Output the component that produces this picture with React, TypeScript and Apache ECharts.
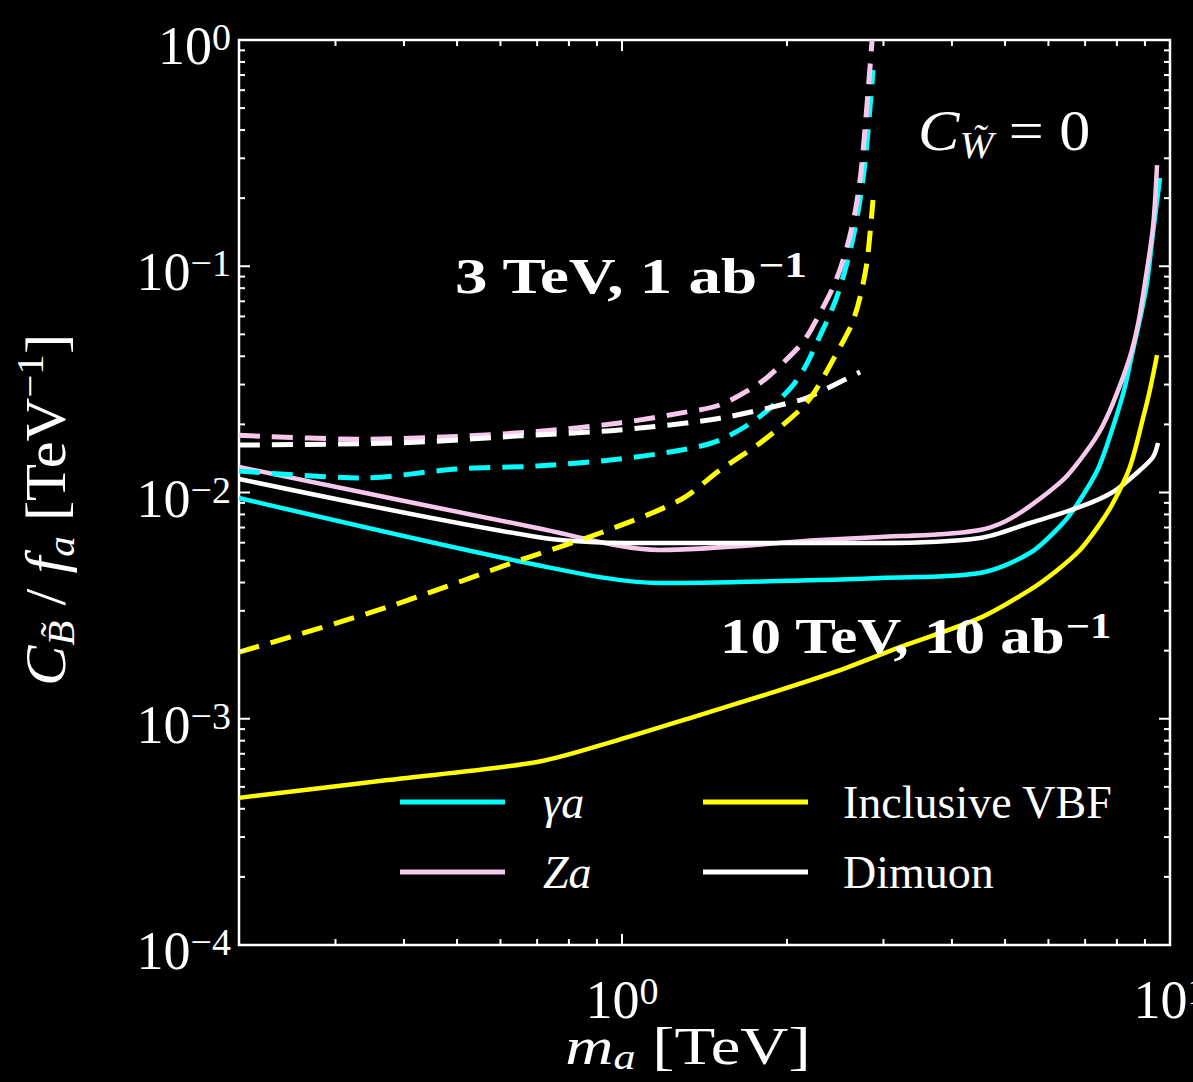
import React, { useEffect, useRef } from 'react';
import * as echarts from 'echarts';

// ---------------- data: m_a [TeV] vs C_B/f_a [TeV^-1] ----------------
// 10 TeV, 10 ab^-1 (solid)
const gammaA10_m = [0.2, 0.7, 1.17, 2.3, 2.96, 4.5, 5.55, 6.38, 6.85, 7.4, 7.87, 8.25, 8.56, 8.85, 9.08, 9.31, 9.59];
const gammaA10_c = [0.00946, 0.00478, 0.00398, 0.0041, 0.00419, 0.00441, 0.0054, 0.00733, 0.00926, 0.0128, 0.01948, 0.0285, 0.0426, 0.061, 0.0843, 0.14, 0.2455];

const zA10_m = [0.2, 0.7, 1.17, 2.3, 2.96, 3.8, 4.5, 5.0, 5.55, 6.38, 6.85, 7.4, 7.87, 8.45, 8.75, 9.0, 9.31, 9.47];
const zA10_c = [0.01297, 0.00697, 0.00557, 0.00617, 0.00636, 0.00654, 0.00683, 0.00745, 0.0087, 0.01136, 0.01392, 0.0182, 0.02486, 0.0397, 0.056, 0.0843, 0.1491, 0.28];

const dimuon10_m = [0.2, 0.7, 1.08, 2.3, 2.96, 4.5, 5.55, 6.85, 7.87, 8.82, 9.31, 9.51];
const dimuon10_c = [0.01148, 0.00636, 0.00598, 0.00598, 0.00598, 0.00629, 0.00733, 0.00863, 0.01005, 0.01257, 0.01435, 0.01655];

const vbf10_m = [0.2, 0.374, 0.7, 0.983, 1.353, 1.87, 2.447, 3.216, 4.5, 5.55, 6.2, 6.85, 7.4, 7.87, 8.45, 8.94, 9.19, 9.47];
const vbf10_c = [0.000447, 0.000536, 0.000644, 0.000805, 0.00102, 0.0013, 0.00161, 0.002075, 0.00279, 0.00371, 0.0045, 0.00557, 0.0071, 0.00899, 0.01297, 0.02157, 0.0284, 0.0405];

// 3 TeV, 1 ab^-1 (dashed)
const gammaA3_m = [0.2, 0.335, 0.5, 0.7, 0.99, 1.3, 1.51, 1.786, 2.086, 2.325, 2.46, 2.574, 2.68, 2.776, 2.871];
const gammaA3_c = [0.01245, 0.0116, 0.0127, 0.0131, 0.01406, 0.0155, 0.01706, 0.0217, 0.0314, 0.0523, 0.072, 0.1034, 0.16, 0.286, 0.737];

const zA3_m = [0.2, 0.335, 0.5, 0.7, 0.99, 1.3, 1.51, 1.786, 1.967, 2.15, 2.298, 2.45, 2.574, 2.67, 2.741, 2.86];
const zA3_c = [0.0179, 0.0172, 0.0177, 0.0186, 0.0203, 0.0226, 0.0244, 0.0305, 0.0374, 0.047, 0.0621, 0.085, 0.1217, 0.18, 0.286, 1.0];

const dimuon3_m = [0.2, 0.4, 0.652, 0.99, 1.51, 2.113, 2.25, 2.719];
const dimuon3_c = [0.0162, 0.0166, 0.0178, 0.0189, 0.0213, 0.0256, 0.0272, 0.0341];

const vbf3_m = [0.2, 0.374, 0.652, 0.912, 1.276, 1.51, 1.786, 2.113, 2.25, 2.5, 2.63, 2.719, 2.8, 2.871];
const vbf3_c = [0.00197, 0.00312, 0.00503, 0.00662, 0.00926, 0.01257, 0.01655, 0.0232, 0.028, 0.044, 0.056, 0.0731, 0.105, 0.1963];

// ticks
const xMajorTicks = [1, 10];
const xMinorTicks = [0.3, 0.4, 0.5, 0.6, 0.7, 0.8, 0.9, 2, 3, 4, 5, 6, 7, 8, 9];
const yMajorTicks = [0.0001, 0.001, 0.01, 0.1, 1];
const yMinorMultipliers = [2, 3, 4, 5, 6, 7, 8, 9];

const legendLeft = ['γa', 'Za'];
const legendRight = ['Inclusive VBF', 'Dimuon'];

const CYAN = '#00ffff';
const PINK = '#f8c8ec';
const YELLOW = '#ffff00';
const WHITE = '#ffffff';
const F = "'Liberation Serif', 'DejaVu Serif', serif";

const zip = (xs: number[], ys: number[]) => xs.map((x, i) => [x, ys[i]]);

function lineSeries(name: string, xs: number[], ys: number[], color: string, dashed: boolean) {
  return {
    name,
    type: 'line',
    data: zip(xs, ys),
    showSymbol: false,
    symbol: 'none',
    smooth: 0.3,
    color,
    itemStyle: { color },
    lineStyle: dashed ? { color, width: 5, type: [21, 12], join: 'round' } : { color, width: 4.5, join: 'round' },
    z: dashed ? 3 : 2,
  };
}

const supExp = (v: number) => {
  const e = Math.round(Math.log10(v));
  return e === 0 ? '0' : e > 0 ? String(e) : '−' + String(-e);
};

export default function App() {
  const ref = useRef<HTMLDivElement>(null);
  useEffect(() => {
    const chart = echarts.init(ref.current!, null, { renderer: 'svg' });
    const labelRich = {
      b: { fontSize: 54, fontFamily: F, color: '#fff', lineHeight: 44, padding: [12, 0, 0, 0] },
      s: { fontSize: 38, fontFamily: F, color: '#fff', verticalAlign: 'top', lineHeight: 32 },
    };
    const option: any = {
      animation: false,
      backgroundColor: '#000',
      grid: {
        left: 239, right: 23, top: 40, bottom: 137, show: true, borderColor: '#fff', borderWidth: 2.5,
        backgroundColor: 'transparent', containLabel: false, outerBoundsMode: 'none',
      },
      xAxis: {
        type: 'log', logBase: 10, min: 0.2, max: 10,
        axisLine: { show: false }, axisTick: { show: false }, splitLine: { show: false },
        axisLabel: {
          margin: 27,
          hideOverlap: false,
          formatter: (v: number) => {
            const e = Math.log10(v);
            return Math.abs(e - Math.round(e)) < 1e-6 ? `{b|10}{s|${supExp(v)}}` : '';
          },
          rich: labelRich,
        },
      },
      yAxis: {
        type: 'log', logBase: 10, min: 0.0001, max: 1,
        axisLine: { show: false }, axisTick: { show: false }, splitLine: { show: false },
        axisLabel: {
          margin: 8,
          formatter: (v: number) => `{b|10}{s|${supExp(v)}}`,
          rich: labelRich,
        },
      },
      legend: [
        {
          data: legendLeft, orient: 'vertical', left: 395, top: 774,
          itemWidth: 105, itemHeight: 5, itemGap: 24, icon: 'rect', selectedMode: false,
          formatter: (n: string) => `{i|${n}}`,
          textStyle: {
            color: '#fff', fontSize: 46, lineHeight: 44, fontFamily: F,
            rich: { i: { fontSize: 46, fontStyle: 'italic', fontFamily: F, color: '#fff', padding: [0, 0, 0, 33], lineHeight: 44 } },
          },
        },
        {
          data: legendRight, orient: 'vertical', left: 698, top: 774,
          itemWidth: 105, itemHeight: 5, itemGap: 24, icon: 'rect', selectedMode: false,
          formatter: (n: string) => `{r|${n}}`,
          textStyle: {
            color: '#fff', fontSize: 46, lineHeight: 44, fontFamily: F,
            rich: { r: { fontSize: 46, fontFamily: F, color: '#fff', padding: [0, 0, 0, 30], lineHeight: 44 } },
          },
        },
      ],
      series: [
        lineSeries('γa', gammaA10_m, gammaA10_c, CYAN, false),
        lineSeries('Za', zA10_m, zA10_c, PINK, false),
        lineSeries('Dimuon', dimuon10_m, dimuon10_c, WHITE, false),
        lineSeries('Inclusive VBF', vbf10_m, vbf10_c, YELLOW, false),
        lineSeries('γa (3 TeV)', gammaA3_m, gammaA3_c, CYAN, true),
        lineSeries('Za (3 TeV)', zA3_m, zA3_c, PINK, true),
        lineSeries('Dimuon (3 TeV)', dimuon3_m, dimuon3_c, WHITE, true),
        lineSeries('Inclusive VBF (3 TeV)', vbf3_m, vbf3_c, YELLOW, true),
      ],
    };
    chart.setOption(option);

    const cx = (v: number) => chart.convertToPixel({ xAxisIndex: 0 }, v) as number;
    const cy = (v: number) => chart.convertToPixel({ yAxisIndex: 0 }, v) as number;
    const x0 = cx(0.2), x1 = cx(10), yB = cy(0.0001), yT = cy(1);
    const els: any[] = [];
    const tick = (xa: number, ya: number, xb: number, yb: number) =>
      els.push({ type: 'line', silent: true, shape: { x1: xa, y1: ya, x2: xb, y2: yb }, style: { stroke: '#fff', lineWidth: 2 }, z: 10 });
    xMajorTicks.forEach((v) => { const p = cx(v); tick(p, yB, p, yB - 11); tick(p, yT, p, yT + 11); });
    xMinorTicks.forEach((v) => { const p = cx(v); tick(p, yB, p, yB - 6); tick(p, yT, p, yT + 6); });
    yMajorTicks.forEach((v) => { const p = cy(v); tick(x0, p, x0 + 11, p); tick(x1, p, x1 - 11, p); });
    yMajorTicks.slice(0, -1).forEach((d) => yMinorMultipliers.forEach((m) => {
      const p = cy(d * m); tick(x0, p, x0 + 6, p); tick(x1, p, x1 - 6, p);
    }));

    const txt = (x: number, y: number, text: string, rich: any, extra: any = {}) =>
      els.push({ type: 'text', x, y, z: 20, silent: true, ...extra, style: { text, rich, fill: '#fff', verticalAlign: 'middle', textVerticalAlign: 'middle', ...(extra.style || {}) } });

    const bold = { fontSize: 50, fontFamily: F, fontWeight: 'bold', fill: '#fff', lineHeight: 44, padding: [12, 0, 0, 0] };
    const boldSup = { fontSize: 35, fontFamily: F, fontWeight: 'bold', fill: '#fff', verticalAlign: 'top', lineHeight: 32 };
    txt(455, 270, '{b|3 TeV, 1 ab}{s|−1}', { b: bold, s: boldSup }, { scaleX: 1.3 });
    txt(720, 630, '{b|10 TeV, 10 ab}{s|−1}', { b: bold, s: boldSup }, { scaleX: 1.22 });

    // math-like rich text: main tokens with tall line box, sub at bottom, sup at top
    const mk = (fs: number, subFs: number, L: number) => ({
      i: { fontSize: fs, fontFamily: F, fontStyle: 'italic', fill: '#fff', lineHeight: L },
      r: { fontSize: fs, fontFamily: F, fill: '#fff', lineHeight: L },
      u: { fontSize: subFs, fontFamily: F, fontStyle: 'italic', fill: '#fff', verticalAlign: 'bottom', lineHeight: subFs },
      s: { fontSize: subFs, fontFamily: F, fill: '#fff', verticalAlign: 'top', lineHeight: subFs },
    });

    txt(918, 130, '{i|C}{u|W̃}{r| = 0}', mk(58, 38, 68), { scaleX: 1.07 });

    // x-axis title
    txt(688, 1046, '{i|m}{u|a}{r| [TeV]}', mk(53, 35, 58), { scaleX: 1.26, style: { align: 'center', textAlign: 'center' } });
    // y-axis title (rotated)
    txt(46, 510, '{i|C}{u|B̃}{r| / }{i|f}{u|a}{r| [TeV}{s|−1}{r|]}', mk(56, 38, 68),
      { rotation: Math.PI / 2, scaleX: 1.08, style: { align: 'center', textAlign: 'center' } });

    chart.setOption({ graphic: { elements: els } });
    return () => chart.dispose();
  }, []);
  return <div ref={ref} style={{ position: 'fixed', left: 0, top: 0, width: 1193, height: 1082, background: '#000' }} />;
}
